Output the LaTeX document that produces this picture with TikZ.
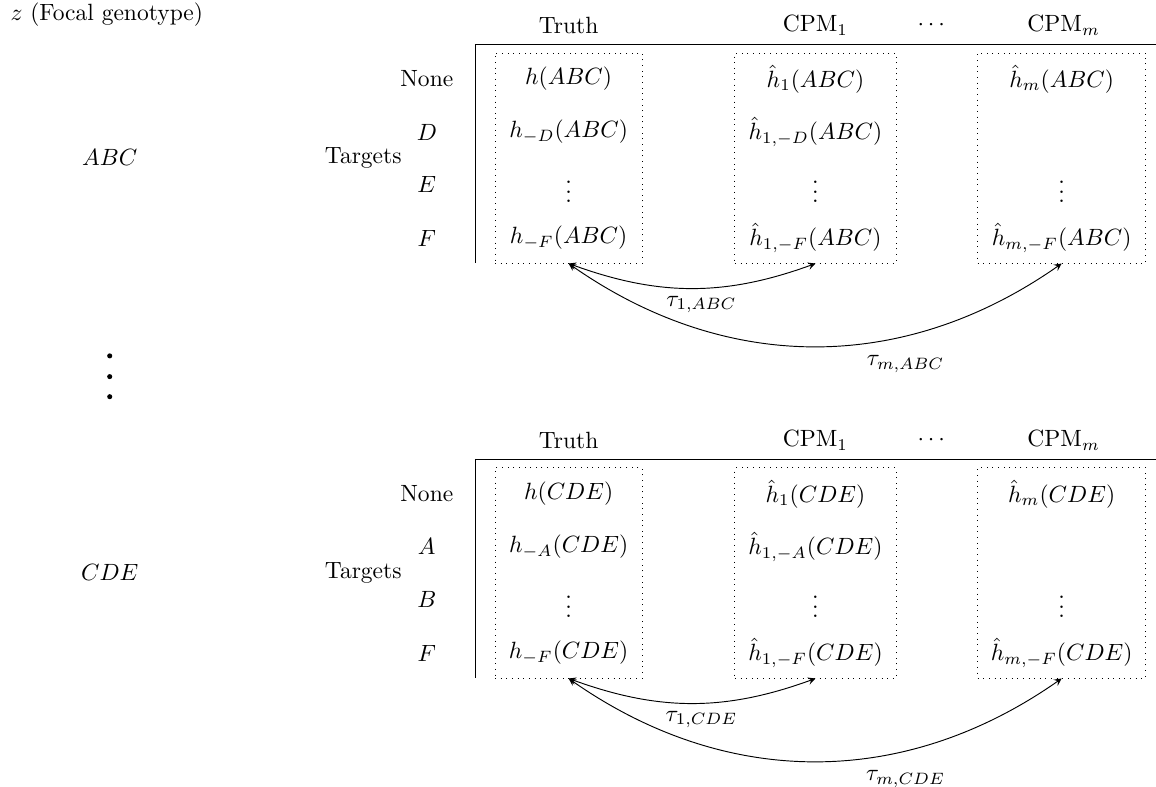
\documentclass[tikz,border=0pt]{standalone}
\usepackage{amsmath, amssymb}
\usetikzlibrary{arrows}
\usetikzlibrary{calc}

\tikzset{
  colbox/.style={draw, dotted, minimum height=3.14cm},
  tau/.style={below}
}

\begin{document}
\begin{tikzpicture}[>=stealth]
\useasboundingbox (0,0) rectangle (17.28,-11.76);

\node[anchor=west, inner sep=0] (title) at (0.15,-0.22) {$z$ (Focal genotype)};

% focal genotype ABC
\node[scale=1] (zA) at (1.64,-2.36) {$ABC$};
\node[scale=1] (targA) at (5.43,-2.36) {Targets};

\node[scale=1] (truthA) at (8.50,-0.374) {Truth};
\node[scale=1] (cpmoneA) at (12.19,-0.374) {CPM$_1$};
\node[scale=1] (cdotsA) at (13.95,-0.374) {$\cdots$};
\node[scale=1] (cpmmA) at (15.90,-0.374) {CPM$_m$};

\draw (7.10,-0.658) -- (17.28,-0.658);
\draw (7.10,-0.658) -- (7.10,-3.93);

\node[scale=1] (rowA1) at (6.38,-1.181) {None};
\node[scale=1] (rowA2) at (6.38,-1.973) {$D$};
\node[scale=1] (rowA3) at (6.38,-2.765) {$E$};
\node[scale=1] (rowA4) at (6.38,-3.558) {$F$};

\node[colbox, minimum width=2.20cm] (boxA1) at (8.50,-2.362) {};
\node[colbox, minimum width=2.41cm] (boxA2) at (12.19,-2.362) {};
\node[colbox, minimum width=2.51cm] (boxA3) at (15.87,-2.362) {};

\node[scale=1] (hA11) at (8.50,-1.181) {$h(ABC)$};
\node[scale=1] (hA12) at (8.50,-1.973) {$h_{-D}(ABC)$};
\node[scale=1] (hA13) at (8.50,-2.765) {$\vdots$};
\node[scale=1] (hA14) at (8.50,-3.558) {$h_{-F}(ABC)$};

\node[scale=1] (hA21) at (12.19,-1.181) {$\hat{h}_1(ABC)$};
\node[scale=1] (hA22) at (12.19,-1.973) {$\hat{h}_{1,-D}(ABC)$};
\node[scale=1] (hA23) at (12.19,-2.765) {$\vdots$};
\node[scale=1] (hA24) at (12.19,-3.558) {$\hat{h}_{1,-F}(ABC)$};

\node[scale=1] (hA31) at (15.87,-1.181) {$\hat{h}_m(ABC)$};
\node[scale=1] (hA33) at (15.87,-2.765) {$\vdots$};
\node[scale=1] (hA34) at (15.87,-3.558) {$\hat{h}_{m,-F}(ABC)$};

\draw [<->] (boxA1.south) to[bend right=20] node[tau, pos=0.54] {$\tau_{1,ABC}$} (boxA2.south);
\draw [<->] (boxA1.south) to[bend right=35] node[tau, pos=0.68, yshift=-5pt] {$\tau_{m,ABC}$} (boxA3.south);

% more genotypes
\fill (1.64,-5.32) circle (0.038);
\fill (1.64,-5.63) circle (0.038);
\fill (1.64,-5.93) circle (0.038);

% focal genotype CDE
\node[scale=1] (zB) at (1.64,-8.563) {$CDE$};
\node[scale=1] (targB) at (5.43,-8.563) {Targets};

\node[scale=1] (truthB) at (8.50,-6.577) {Truth};
\node[scale=1] (cpmoneB) at (12.19,-6.577) {CPM$_1$};
\node[scale=1] (cdotsB) at (13.95,-6.577) {$\cdots$};
\node[scale=1] (cpmmB) at (15.90,-6.577) {CPM$_m$};

\draw (7.10,-6.861) -- (17.28,-6.861);
\draw (7.10,-6.861) -- (7.10,-10.133);

\node[scale=1] (rowB1) at (6.38,-7.384) {None};
\node[scale=1] (rowB2) at (6.38,-8.176) {$A$};
\node[scale=1] (rowB3) at (6.38,-8.968) {$B$};
\node[scale=1] (rowB4) at (6.38,-9.761) {$F$};

\node[colbox, minimum width=2.20cm] (boxB1) at (8.50,-8.565) {};
\node[colbox, minimum width=2.41cm] (boxB2) at (12.19,-8.565) {};
\node[colbox, minimum width=2.51cm] (boxB3) at (15.87,-8.565) {};

\node[scale=1] (hB11) at (8.50,-7.384) {$h(CDE)$};
\node[scale=1] (hB12) at (8.50,-8.176) {$h_{-A}(CDE)$};
\node[scale=1] (hB13) at (8.50,-8.968) {$\vdots$};
\node[scale=1] (hB14) at (8.50,-9.761) {$h_{-F}(CDE)$};

\node[scale=1] (hB21) at (12.19,-7.384) {$\hat{h}_1(CDE)$};
\node[scale=1] (hB22) at (12.19,-8.176) {$\hat{h}_{1,-A}(CDE)$};
\node[scale=1] (hB23) at (12.19,-8.968) {$\vdots$};
\node[scale=1] (hB24) at (12.19,-9.761) {$\hat{h}_{1,-F}(CDE)$};

\node[scale=1] (hB31) at (15.87,-7.384) {$\hat{h}_m(CDE)$};
\node[scale=1] (hB33) at (15.87,-8.968) {$\vdots$};
\node[scale=1] (hB34) at (15.87,-9.761) {$\hat{h}_{m,-F}(CDE)$};

\draw [<->] (boxB1.south) to[bend right=20] node[tau, pos=0.54] {$\tau_{1,CDE}$} (boxB2.south);
\draw [<->] (boxB1.south) to[bend right=35] node[tau, pos=0.68, yshift=-5pt] {$\tau_{m,CDE}$} (boxB3.south);
\end{tikzpicture}
\end{document}
